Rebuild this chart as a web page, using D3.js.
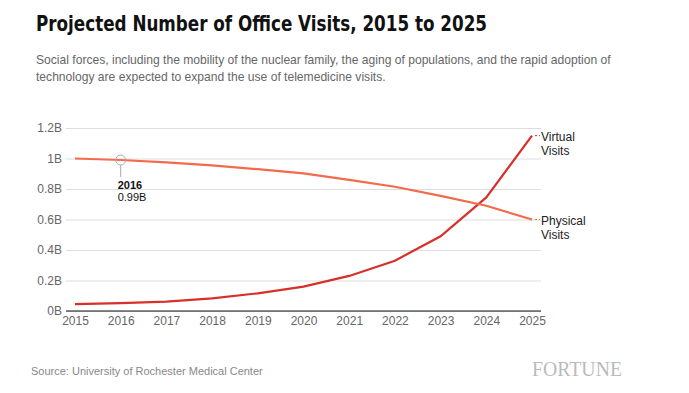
<!DOCTYPE html>
<html>
<head>
<meta charset="utf-8">
<style>
    body { margin: 0; background: #fff; font-family: "Liberation Sans", Arial, sans-serif; }
    svg { display: block; }
    .grid line { stroke: #ddd; }
    .tick text { fill: #666; font-size: 12px; }
</style>
</head>
<body>
<svg width="689" height="393"></svg>
<script src="https://d3js.org/d3.v7.min.js"></script>
<script>
    // data (billions of visits)
    let years = [2015, 2016, 2017, 2018, 2019, 2020, 2021, 2022, 2023, 2024, 2025];
    let physical = [1.0, 0.99, 0.975, 0.955, 0.93, 0.903, 0.86, 0.815, 0.755, 0.69, 0.6];
    let virtual = [0.045, 0.052, 0.062, 0.083, 0.116, 0.16, 0.23, 0.33, 0.49, 0.745, 1.15];
    let yTicks = [0, 0.2, 0.4, 0.6, 0.8, 1, 1.2];
    let series = [
        { name: ["Virtual", "Visits"], values: virtual, color: "#d7302a" },
        { name: ["Physical", "Visits"], values: physical, color: "#f36b4c" }
    ];
    let highlight = { year: 2016, value: 0.99, label: "0.99B" };

    let svg = d3.select("svg");

    let x = d3.scaleLinear().domain([2015, 2025]).range([75, 532]);
    let y = d3.scaleLinear().domain([0, 1.2]).range([311, 128]);

    // title block
    svg.append("text")
        .attr("x", 36).attr("y", 31)
        .attr("textLength", 451).attr("lengthAdjust", "spacingAndGlyphs")
        .style("font-family", "'DejaVu Sans Condensed', 'Liberation Sans Narrow', sans-serif")
        .style("font-weight", "bold").style("font-size", "22px").style("fill", "#111")
        .text("Projected Number of Office Visits, 2015 to 2025");

    let sub = [
        "Social forces, including the mobility of the nuclear family, the aging of populations, and the rapid adoption of",
        "technology are expected to expand the use of telemedicine visits."
    ];
    svg.selectAll(".sub").data(sub).join("text")
        .attr("class", "sub")
        .attr("x", 36).attr("y", (d, i) => 64 + i * 17)
        .style("font-size", "12.1px").style("fill", "#666")
        .text(d => d);

    // gridlines + y axis
    let yAxis = svg.append("g")
        .attr("class", "grid")
        .attr("transform", "translate(66,0)")
        .call(d3.axisLeft(y).tickValues(yTicks).tickSize(-475).tickFormat(d => d3.format("~g")(d) + "B"));
    yAxis.select(".domain").remove();
    yAxis.selectAll(".tick text").attr("x", -4);

    // x axis
    let xAxis = svg.append("g")
        .attr("transform", "translate(0,311)")
        .call(d3.axisBottom(x).tickValues(years).tickSize(0).tickFormat(d3.format("d")));
    xAxis.select(".domain").attr("d", "M66,0H541").attr("stroke", "#111");
    xAxis.selectAll(".tick text").attr("dy", "0.9em");

    let line = d3.line()
        .x((d, i) => x(years[i]))
        .y(d => y(d));

    svg.selectAll(".series").data(series).join("path")
        .attr("class", "series")
        .attr("d", d => line(d.values))
        .attr("fill", "none")
        .attr("stroke", d => d.color)
        .attr("stroke-width", 2.2);

    // end labels
    series.forEach(s => {
        let v = s.values[s.values.length - 1];
        svg.append("line")
            .attr("x1", x(2025) + 3).attr("x2", x(2025) + 8)
            .attr("y1", y(v)).attr("y2", y(v))
            .attr("stroke", s.color).attr("stroke-dasharray", "2,2");
        svg.append("text")
            .attr("x", 541).attr("y", y(v) + 5)
            .style("font-size", "12px").style("fill", "#222")
            .selectAll("tspan").data(s.name).join("tspan")
            .attr("x", 541).attr("dy", (d, i) => i ? 14 : 0)
            .text(d => d);
    });

    // hover marker
    let hx = x(highlight.year), hy = y(highlight.value);
    svg.append("line")
        .attr("x1", hx).attr("x2", hx)
        .attr("y1", hy + 5).attr("y2", hy + 17)
        .attr("stroke", "#aaa");
    svg.append("circle")
        .attr("cx", hx).attr("cy", hy).attr("r", 5)
        .attr("fill", "none").attr("stroke", "#aaa");
    svg.append("text")
        .attr("x", hx - 3).attr("y", 189)
        .style("font-size", "11px").style("font-weight", "bold").style("fill", "#111")
        .text(highlight.year);
    svg.append("text")
        .attr("x", hx - 3).attr("y", 201)
        .style("font-size", "11px").style("fill", "#111")
        .text(highlight.label);

    // footer
    svg.append("text")
        .attr("x", 31).attr("y", 375)
        .style("font-size", "11px").style("fill", "#888")
        .text("Source: University of Rochester Medical Center");
    svg.append("text")
        .attr("x", 532).attr("y", 376)
        .attr("textLength", 90).attr("lengthAdjust", "spacingAndGlyphs")
        .style("font-family", "'Liberation Serif', serif")
        .style("font-size", "20px").style("fill", "#bbb")
        .text("FORTUNE");
</script>
</body>
</html>
